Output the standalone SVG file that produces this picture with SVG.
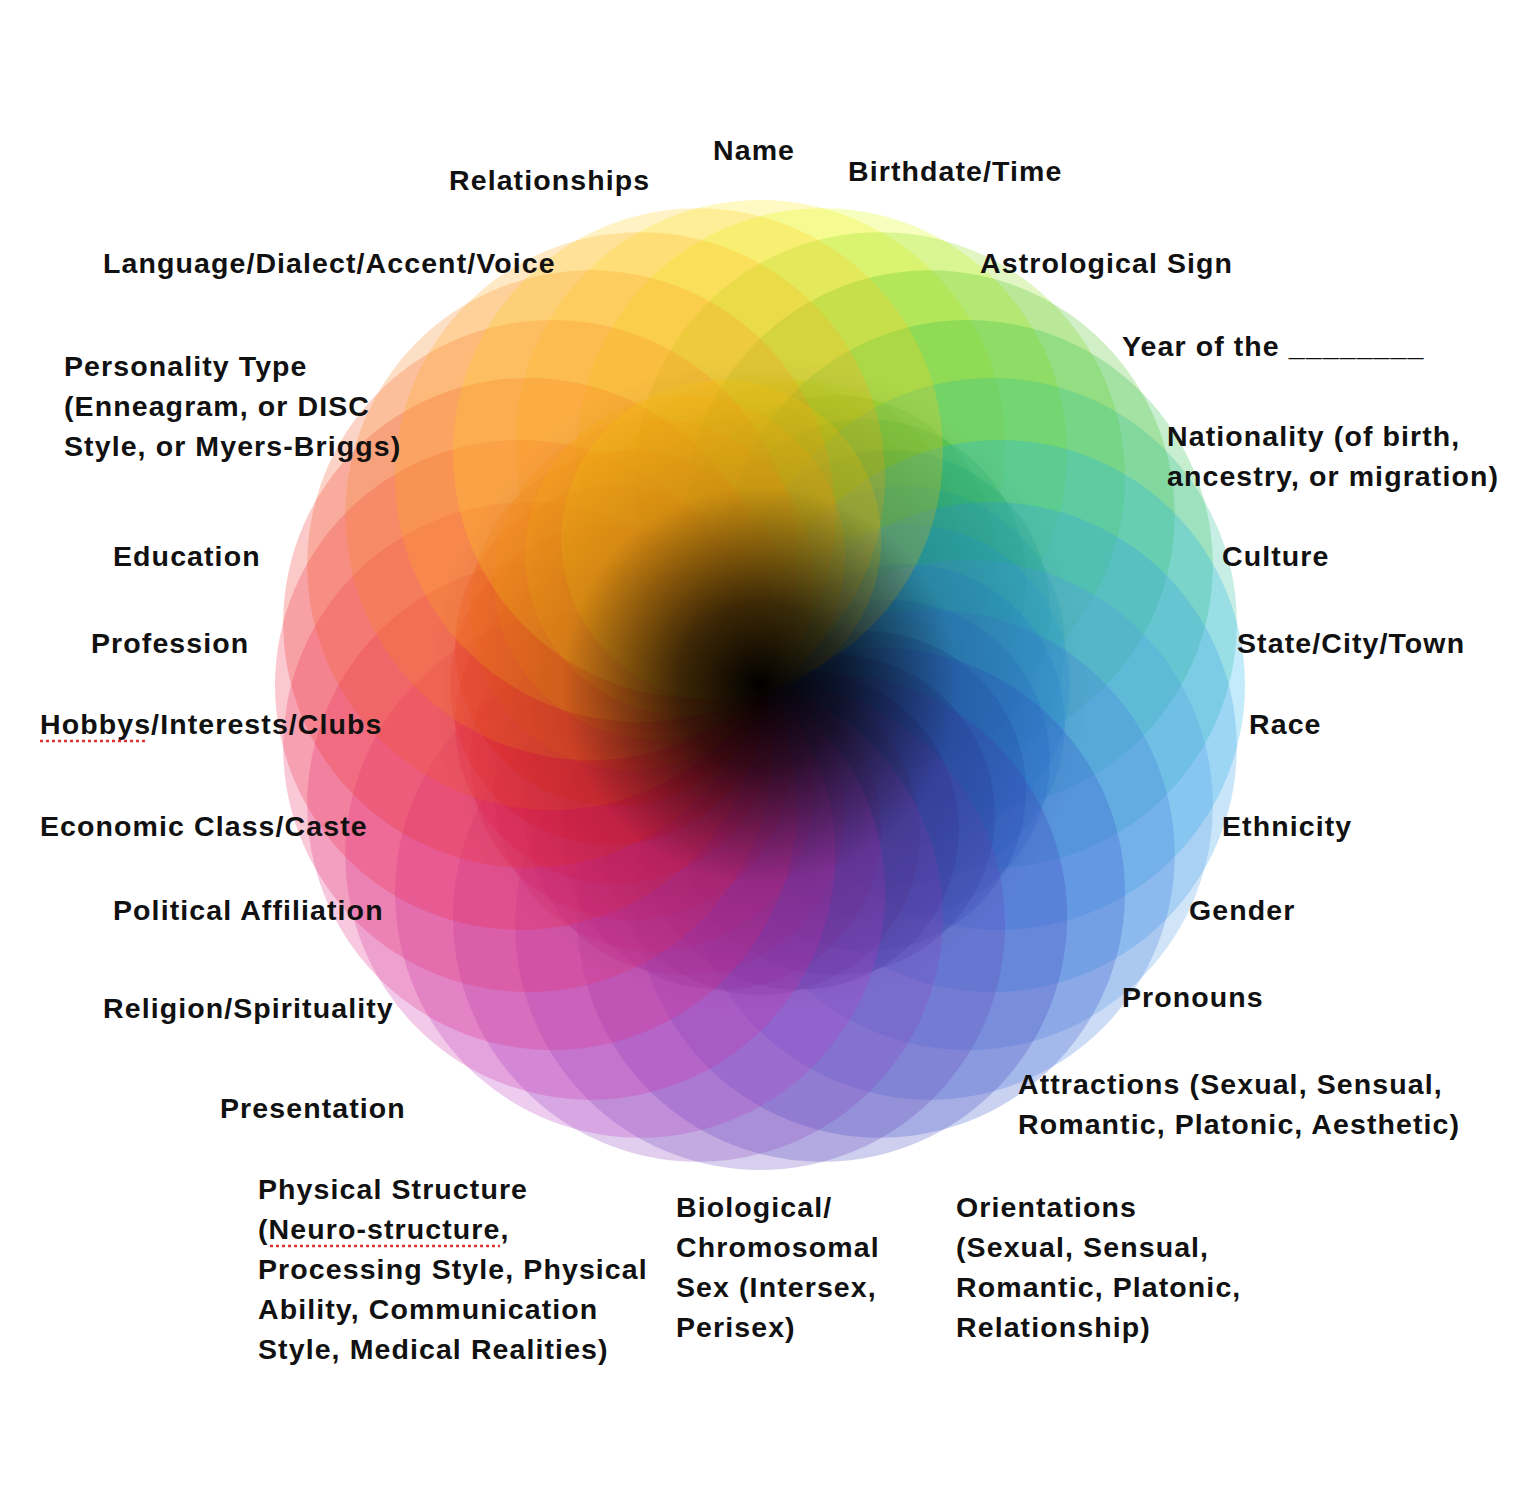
<svg xmlns="http://www.w3.org/2000/svg" width="1516" height="1504" viewBox="0 0 1516 1504">
<style>
text{font-family:"Liberation Sans",Arial,sans-serif;font-weight:bold;font-size:28.5px;letter-spacing:1.1px;fill:#111}
.p{opacity:0.26}
.u{stroke:#e03030;stroke-width:2.5;stroke-dasharray:3 3;fill:none}
</style>
<defs>
<radialGradient id="dark" cx="760" cy="685" r="330" gradientUnits="userSpaceOnUse">
<stop offset="0" stop-color="#000" stop-opacity="1"/>
<stop offset="0.25" stop-color="#000" stop-opacity="0.75"/>
<stop offset="0.6" stop-color="#000" stop-opacity="0.15"/>
<stop offset="1" stop-color="#000" stop-opacity="0"/>
</radialGradient>
</defs>
<rect width="1516" height="1504" fill="#fff"/>
<g id="wheel" transform="translate(760,685)">
<g transform="rotate(0)"><circle class="p" cx="0" cy="-240" r="245" fill="hsl(55,100%,55%)"/><circle class="p" cx="0" cy="-150" r="160" fill="hsl(55,100%,50%)"/></g>
<g transform="rotate(15)"><circle class="p" cx="0" cy="-240" r="245" fill="hsl(68,100%,50%)"/><circle class="p" cx="0" cy="-150" r="160" fill="hsl(68,100%,45%)"/></g>
<g transform="rotate(30)"><circle class="p" cx="0" cy="-240" r="245" fill="hsl(85,80%,48%)"/><circle class="p" cx="0" cy="-150" r="160" fill="hsl(85,80%,42%)"/></g>
<g transform="rotate(45)"><circle class="p" cx="0" cy="-240" r="245" fill="hsl(105,70%,45%)"/><circle class="p" cx="0" cy="-150" r="160" fill="hsl(105,70%,40%)"/></g>
<g transform="rotate(60)"><circle class="p" cx="0" cy="-240" r="245" fill="hsl(130,65%,45%)"/><circle class="p" cx="0" cy="-150" r="160" fill="hsl(130,65%,40%)"/></g>
<g transform="rotate(75)"><circle class="p" cx="0" cy="-240" r="245" fill="hsl(165,65%,45%)"/><circle class="p" cx="0" cy="-150" r="160" fill="hsl(165,65%,40%)"/></g>
<g transform="rotate(90)"><circle class="p" cx="0" cy="-240" r="245" fill="hsl(195,80%,50%)"/><circle class="p" cx="0" cy="-150" r="160" fill="hsl(195,80%,45%)"/></g>
<g transform="rotate(105)"><circle class="p" cx="0" cy="-240" r="245" fill="hsl(205,80%,55%)"/><circle class="p" cx="0" cy="-150" r="160" fill="hsl(205,80%,45%)"/></g>
<g transform="rotate(120)"><circle class="p" cx="0" cy="-240" r="245" fill="hsl(210,75%,60%)"/><circle class="p" cx="0" cy="-150" r="160" fill="hsl(210,75%,45%)"/></g>
<g transform="rotate(135)"><circle class="p" cx="0" cy="-240" r="245" fill="hsl(218,70%,55%)"/><circle class="p" cx="0" cy="-150" r="160" fill="hsl(218,70%,40%)"/></g>
<g transform="rotate(150)"><circle class="p" cx="0" cy="-240" r="245" fill="hsl(228,60%,50%)"/><circle class="p" cx="0" cy="-150" r="160" fill="hsl(228,60%,38%)"/></g>
<g transform="rotate(165)"><circle class="p" cx="0" cy="-240" r="245" fill="hsl(240,50%,50%)"/><circle class="p" cx="0" cy="-150" r="160" fill="hsl(240,50%,38%)"/></g>
<g transform="rotate(180)"><circle class="p" cx="0" cy="-240" r="245" fill="hsl(255,45%,50%)"/><circle class="p" cx="0" cy="-150" r="160" fill="hsl(255,45%,38%)"/></g>
<g transform="rotate(195)"><circle class="p" cx="0" cy="-240" r="245" fill="hsl(275,50%,50%)"/><circle class="p" cx="0" cy="-150" r="160" fill="hsl(275,50%,38%)"/></g>
<g transform="rotate(210)"><circle class="p" cx="0" cy="-240" r="245" fill="hsl(295,55%,50%)"/><circle class="p" cx="0" cy="-150" r="160" fill="hsl(295,55%,40%)"/></g>
<g transform="rotate(225)"><circle class="p" cx="0" cy="-240" r="245" fill="hsl(315,65%,50%)"/><circle class="p" cx="0" cy="-150" r="160" fill="hsl(315,65%,45%)"/></g>
<g transform="rotate(240)"><circle class="p" cx="0" cy="-240" r="245" fill="hsl(330,75%,52%)"/><circle class="p" cx="0" cy="-150" r="160" fill="hsl(330,75%,47%)"/></g>
<g transform="rotate(255)"><circle class="p" cx="0" cy="-240" r="245" fill="hsl(342,80%,55%)"/><circle class="p" cx="0" cy="-150" r="160" fill="hsl(342,80%,50%)"/></g>
<g transform="rotate(270)"><circle class="p" cx="0" cy="-240" r="245" fill="hsl(352,85%,55%)"/><circle class="p" cx="0" cy="-150" r="160" fill="hsl(352,85%,50%)"/></g>
<g transform="rotate(285)"><circle class="p" cx="0" cy="-240" r="245" fill="hsl(2,85%,55%)"/><circle class="p" cx="0" cy="-150" r="160" fill="hsl(2,85%,50%)"/></g>
<g transform="rotate(300)"><circle class="p" cx="0" cy="-240" r="245" fill="hsl(15,90%,55%)"/><circle class="p" cx="0" cy="-150" r="160" fill="hsl(15,90%,52%)"/></g>
<g transform="rotate(315)"><circle class="p" cx="0" cy="-240" r="245" fill="hsl(28,95%,55%)"/><circle class="p" cx="0" cy="-150" r="160" fill="hsl(28,95%,52%)"/></g>
<g transform="rotate(330)"><circle class="p" cx="0" cy="-240" r="245" fill="hsl(38,100%,55%)"/><circle class="p" cx="0" cy="-150" r="160" fill="hsl(38,100%,52%)"/></g>
<g transform="rotate(345)"><circle class="p" cx="0" cy="-240" r="245" fill="hsl(47,100%,55%)"/><circle class="p" cx="0" cy="-150" r="160" fill="hsl(47,100%,52%)"/></g>
</g>
<circle cx="760" cy="685" r="330" fill="url(#dark)"/>
<g id="labels">
<text x="713" y="160">Name</text>
<text x="449" y="190">Relationships</text>
<text x="848" y="181">Birthdate/Time</text>
<text x="103" y="273">Language/Dialect/Accent/Voice</text>
<text x="980" y="273">Astrological Sign</text>
<text x="1122" y="356">Year of the ________</text>
<text x="64" y="376">Personality Type</text>
<text x="64" y="416">(Enneagram, or DISC</text>
<text x="64" y="456">Style, or Myers-Briggs)</text>
<text x="1167" y="446">Nationality (of birth,</text>
<text x="1167" y="486">ancestry, or migration)</text>
<text x="113" y="566">Education</text>
<text x="1222" y="566">Culture</text>
<text x="91" y="653">Profession</text>
<text x="1237" y="653">State/City/Town</text>
<text x="40" y="734">Hobbys/Interests/Clubs</text>
<path class="u" d="M40 741 H146"/>
<text x="1249" y="734">Race</text>
<text x="40" y="836">Economic Class/Caste</text>
<text x="1222" y="836">Ethnicity</text>
<text x="113" y="920">Political Affiliation</text>
<text x="1189" y="920">Gender</text>
<text x="103" y="1018">Religion/Spirituality</text>
<text x="1122" y="1007">Pronouns</text>
<text x="1018" y="1094">Attractions (Sexual, Sensual,</text>
<text x="1018" y="1134">Romantic, Platonic, Aesthetic)</text>
<text x="220" y="1118">Presentation</text>
<text x="258" y="1199">Physical Structure</text>
<text x="258" y="1239">(Neuro-structure,</text>
<path class="u" d="M270 1246 H500"/>
<text x="258" y="1279">Processing Style, Physical</text>
<text x="258" y="1319">Ability, Communication</text>
<text x="258" y="1359">Style, Medical Realities)</text>
<text x="676" y="1217">Biological/</text>
<text x="676" y="1257">Chromosomal</text>
<text x="676" y="1297">Sex (Intersex,</text>
<text x="676" y="1337">Perisex)</text>
<text x="956" y="1217">Orientations</text>
<text x="956" y="1257">(Sexual, Sensual,</text>
<text x="956" y="1297">Romantic, Platonic,</text>
<text x="956" y="1337">Relationship)</text>
</g>
</svg>
